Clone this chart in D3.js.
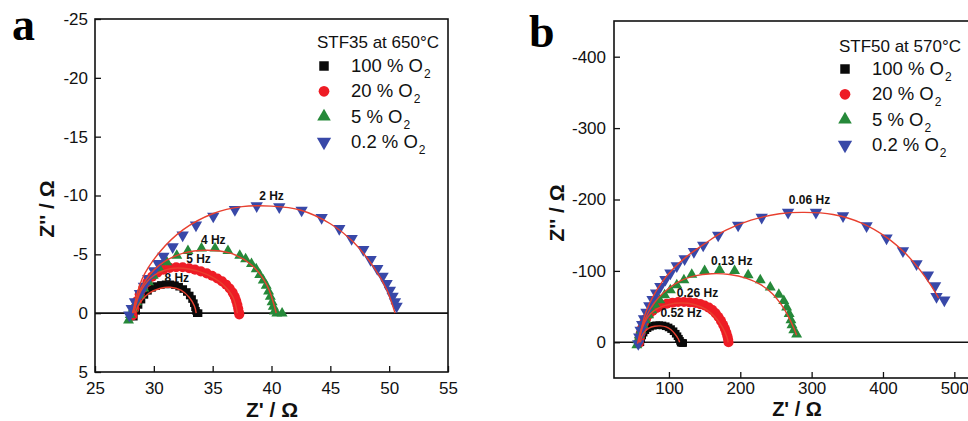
<!DOCTYPE html>
<html>
<head>
<meta charset="utf-8">
<script src="https://cdn.jsdelivr.net/npm/d3@7"></script>
<style>
  body { margin: 0; background: #fff; }
  svg { display: block; font-family: 'Liberation Sans', Arial, sans-serif; }
  .axis text { font-size: 17px; fill: #111; }
  .axis line { stroke: #111; stroke-width: 1.3px; }
  .frame { fill: none; stroke: #111; stroke-width: 1.6px; }
  .zero { stroke: #111; stroke-width: 1.6px; }
  .fit { fill: none; stroke: #e8402f; stroke-width: 1.4px; }
  .title { font-size: 21px; font-weight: bold; fill: #111; }
  .freq { font-size: 12px; font-weight: bold; fill: #111; }
  .legend { font-size: 17px; fill: #111; }
  .entry { font-size: 18.5px; fill: #111; }
  .letter { font-family: 'Liberation Serif', 'Times New Roman', serif; font-weight: bold; font-size: 46px; }
</style>
</head>
<body>
<div id="chart"></div>
<script>
/* global d3 */

// ---- values (Z' , Z'' in ohm) ----
var seriesLabels = ['100 % O', '20 % O', '5 % O', '0.2 % O'];

// panel a: STF35 at 650 C
var a100 = [[28.3,0.3],[28.5,-0.2],[28.7,-0.7],[28.95,-1.15],[29.2,-1.55],[29.5,-1.9],[29.85,-2.15],[30.2,-2.3],
  [30.6,-2.4],[31.0,-2.45],[31.4,-2.45],[31.8,-2.38],[32.15,-2.25],[32.5,-2.05],[32.8,-1.8],[33.05,-1.5],
  [33.25,-1.2],[33.4,-0.85],[33.5,-0.5],[33.58,-0.2],[33.65,0],[33.8,0]];
var a20 = [[28.2,0.2],[28.35,-0.4],[28.55,-1.0],[28.8,-1.6],[29.1,-2.15],[29.45,-2.65],[29.85,-3.1],[30.3,-3.45],
  [30.8,-3.7],[31.35,-3.85],[31.9,-3.9],[32.45,-3.9],[33.0,-3.82],[33.5,-3.7],[34.0,-3.55],[34.5,-3.38],
  [34.95,-3.18],[35.4,-2.95],[35.8,-2.7],[36.15,-2.42],[36.45,-2.1],[36.7,-1.75],[36.88,-1.4],[37.0,-1.05],
  [37.1,-0.72],[37.17,-0.4],[37.22,-0.12],[37.26,0.1]];
var a5 = [[27.85,0.6],[28.0,0.15],[28.25,-0.4],[28.55,-0.95],[28.85,-1.5],[29.15,-2.1],[29.55,-2.65],[29.95,-3.2],
  [30.45,-3.8],[31.1,-4.35],[31.95,-4.9],[32.9,-5.3],[34.05,-5.5],[35.2,-5.5],[36.3,-5.3],[37.3,-4.9],
  [37.8,-4.6],[38.3,-4.2],[38.7,-3.75],[39.0,-3.25],[39.3,-2.8],[39.55,-2.35],[39.75,-1.85],[39.9,-1.4],
  [40.05,-0.95],[40.15,-0.55],[40.25,-0.15],[40.45,0.02],[40.9,0.02]];
var a02 = [[27.92,0.17],[28.12,-0.4],[28.4,-0.96],[28.82,-1.67],[29.16,-2.29],[29.53,-2.95],[30.01,-3.6],
  [30.38,-4.22],[30.81,-4.84],[31.6,-5.64],[32.45,-6.63],[33.58,-7.48],[35.05,-8.24],[36.89,-8.81],
  [38.74,-9.12],[40.66,-9.03],[42.56,-8.75],[44.26,-8.13],[45.76,-7.19],[46.81,-6.34],[47.8,-5.41],
  [48.42,-4.56],[48.99,-3.79],[49.44,-3.14],[49.78,-2.52],[50.06,-1.95],[50.29,-1.44],[50.49,-0.96],[50.63,-0.59]];
// fitted curves (red lines)
var aFit100 = [[28.4,0],[28.9,-1.0],[29.6,-1.7],[30.5,-2.1],[31.4,-2.2],[32.3,-1.95],[33.0,-1.35],[33.45,-0.6],[33.6,0]];
var aFit20 = [[28.3,0],[28.9,-1.9],[30.0,-3.2],[31.5,-3.8],[33.0,-3.75],[34.5,-3.3],[35.8,-2.5],[36.7,-1.4],[37.1,0]];
var aFit5 = [[28.2,0],[29.0,-2.3],[30.5,-4.1],[32.5,-5.1],[34.5,-5.35],[36.5,-5.1],[38.3,-4.1],[39.6,-2.4],[40.4,0]];
var aFit02 = [[28.2,0],[29.0,-2.9],[30.5,-5.2],[32.5,-7.1],[35,-8.45],[37.5,-9.05],[40,-9.1],[42.5,-8.75],
  [45,-7.6],[47,-6],[48.7,-3.9],[49.8,-2],[50.5,0]];
var aFreq = [['2 Hz', 40.0, -9.6], ['4 Hz', 35.05, -5.85], ['5 Hz', 33.8, -4.25], ['8 Hz', 31.95, -2.65]];
var aXTicks = [25, 30, 35, 40, 45, 50, 55];
var aYTicks = [-25, -20, -15, -10, -5, 0, 5];

// panel b: STF50 at 570 C
var b100 = [[60,0],[61,-5],[62.5,-9.5],[64.5,-13.5],[67,-17],[70,-19.8],[73.5,-21.8],[77.5,-23.2],[82,-23.8],
  [86.5,-24],[91,-23.6],[95.5,-22.5],[99.5,-20.8],[103,-18.5],[106.5,-15.5],[109.5,-12],[112,-8.5],
  [114,-5],[115.5,-2],[116.5,0.5],[118.5,1],[120,1]];
var b20 = [[58,1],[59,-6],[60.5,-13],[62.5,-20],[65,-27],[68,-33],[72,-39],[77,-44],[83,-48],[90,-51.5],
  [97,-54],[105,-55.5],[113,-56.5],[121,-56.5],[129,-56],[137,-55],[144,-53.5],[150,-51.5],[156,-48.5],
  [161,-45],[165.5,-40.5],[169.5,-35.5],[173,-30],[176,-24.5],[178.5,-19],[180.5,-13.5],[182,-8.5],
  [183,-4],[183.5,0]];
var b5 = [[55,4],[56.5,-3],[58.5,-10],[61,-17],[64,-24],[67.5,-31],[71.5,-38],[76,-45],[81,-52],[87,-59],
  [94,-66],[102,-73],[111,-80],[121,-87],[132,-95],[150,-100],[171,-101.5],[192,-100],[211,-94],[228,-87],
  [242,-77],[254,-67],[261,-58],[265,-49],[268.5,-40],[271,-31],[272.5,-24],[275,-17],[279,-11]];
var b02 = [[57,2],[58.4,-7.5],[60.3,-16.8],[62.5,-25],[65,-33],[68.5,-42],[72.5,-51],[77,-60],[82,-69],
  [88,-78],[95,-88],[102,-97],[111,-107],[122,-117],[135,-127],[148,-136],[169,-150],[197,-164],[230,-175],
  [267,-182],[306,-182],[344,-177],[377,-163],[405,-146],[428,-128],[447,-110],[463,-94],[473,-79],
  [475,-64],[486,-59]];
var bFit100 = [[60,0],[62,-8],[66,-15],[72,-20],[80,-22.5],[88,-23],[96,-21.5],[103,-17.5],[109,-11],[113,-5],[115,0]];
var bFit20 = [[58,0],[61,-15],[66,-28],[74,-40],[85,-48],[100,-53],[117,-55],[135,-53],[152,-46],[165,-35],
  [175,-21],[181,-8],[183,0]];
var bFit5 = [[56,2],[60,-15],[66,-31],[74,-47],[85,-62],[99,-75],[116,-86],[136,-93],[160,-96],[185,-95],
  [208,-90],[228,-81],[245,-68],[258,-52],[268,-35],[275,-20],[279,-10]];
var bFit02 = [[58,0],[62,-22],[68,-43],[77,-63],[90,-84],[106,-103],[126,-121],[150,-138],[180,-157],
  [215,-171],[255,-180],[290,-182],[330,-179],[370,-167],[405,-147],[432,-124],[452,-101],[467,-80],[478,-62]];
var bFreq = [['0.06 Hz', 297, -193], ['0.13 Hz', 188, -108], ['0.26 Hz', 140, -64], ['0.52 Hz', 117, -36]];
var bXTicks = [100, 200, 300, 400, 500];
var bYTicks = [-400, -300, -200, -100, 0];

// ---- drawing ----
var colors = ['#0a0a0a', '#ee1c25', '#26893a', '#3848a8'];
var shapes = [d3.symbolSquare, d3.symbolCircle, d3.symbolTriangle, d3.symbolTriangle];
var pointSizes = [58, 80, 52, 66];
var legendSizes = [90, 90, 80, 88];

var svg = d3.select('#chart').append('svg')
    .attr('width', 968)
    .attr('height', 421);

function symbolTransform(i, px, py) {
  // 0.2 % series uses a down-pointing triangle
  return 'translate(' + px + ',' + py + ')' + (i === 3 ? ' rotate(180)' : '');
}

function plainNumber(d) { return String(d); } // keep the ascii hyphen of the original

function drawPanel(cfg) {
  var x = d3.scaleLinear().domain(cfg.xDomain).range([cfg.left, cfg.left + cfg.width]);
  var y = d3.scaleLinear().domain(cfg.yDomain).range([cfg.top, cfg.top + cfg.height]);
  var g = svg.append('g');

  g.append('line')
      .attr('class', 'zero')
      .attr('x1', cfg.left).attr('x2', cfg.left + cfg.width)
      .attr('y1', y(0)).attr('y2', y(0));

  cfg.series.forEach(function (pts, i) {
    g.append('g').selectAll('path')
        .data(pts)
      .enter().append('path')
        .attr('d', d3.symbol(shapes[i], pointSizes[i]))
        .attr('transform', function (d) { return symbolTransform(i, x(d[0]), y(d[1])); })
        .attr('fill', colors[i]);
  });

  var line = d3.line()
      .x(function (d) { return x(d[0]); })
      .y(function (d) { return y(d[1]); })
      .curve(d3.curveCatmullRom);
  cfg.fits.forEach(function (f) {
    g.append('path').attr('class', 'fit').attr('d', line(f));
  });

  g.append('g').selectAll('text')
      .data(cfg.freq)
    .enter().append('text')
      .attr('class', 'freq')
      .attr('x', function (d) { return x(d[1]); })
      .attr('y', function (d) { return y(d[2]); })
      .attr('text-anchor', 'middle')
      .text(function (d) { return d[0]; });

  var xAxis = d3.axisBottom(x).tickValues(cfg.xTicks).tickFormat(plainNumber)
      .tickSizeInner(-6).tickSizeOuter(0).tickPadding(cfg.xPad);
  var yAxis = d3.axisLeft(y).tickValues(cfg.yTicks).tickFormat(plainNumber)
      .tickSizeInner(-6).tickSizeOuter(0).tickPadding(cfg.yPad);

  g.append('g')
      .attr('class', 'axis')
      .attr('transform', 'translate(0,' + (cfg.top + cfg.height) + ')')
      .call(xAxis)
      .select('.domain').remove();
  g.append('g')
      .attr('class', 'axis')
      .attr('transform', 'translate(' + cfg.left + ',0)')
      .call(yAxis)
      .select('.domain').remove();
  g.selectAll('.axis').attr('font-family', null).attr('font-size', null);

  g.append('rect')
      .attr('class', 'frame')
      .attr('x', cfg.left).attr('y', cfg.top)
      .attr('width', cfg.width).attr('height', cfg.height);

  // axis titles
  g.append('text')
      .attr('class', 'title')
      .attr('x', cfg.xTitle[0]).attr('y', cfg.xTitle[1])
      .attr('text-anchor', 'middle')
      .style('font-size', cfg.xTitle[2])
      .text('Z\' / \u03A9');
  g.append('text')
      .attr('class', 'title')
      .attr('transform', 'translate(' + cfg.yTitle[0] + ',' + cfg.yTitle[1] + ') rotate(-90)')
      .attr('text-anchor', 'middle')
      .attr('dy', '0.35em')
      .text('Z\'\' / \u03A9');

  // panel letter
  g.append('text')
      .attr('class', 'letter')
      .attr('x', cfg.letter[1]).attr('y', cfg.letter[2])
      .text(cfg.letter[0]);

  // legend
  var lg = cfg.legend;
  g.append('text')
      .attr('class', 'legend')
      .attr('x', lg.right).attr('y', lg.titleY)
      .attr('text-anchor', 'end')
      .text(lg.title);
  seriesLabels.forEach(function (label, i) {
    var cy = lg.rowY + i * lg.step;
    g.append('path')
        .attr('d', d3.symbol(shapes[i], legendSizes[i]))
        .attr('transform', symbolTransform(i, lg.symX, cy))
        .attr('fill', colors[i]);
    var t = g.append('text')
        .attr('class', 'entry')
        .attr('x', lg.textX).attr('y', cy + 6)
        .text(label);
    t.append('tspan').attr('font-size', '12px').attr('dx', 1).attr('dy', 6).text('2');
  });
}

drawPanel({
  xDomain: [25, 55], yDomain: [-25, 5],
  left: 95, top: 19, width: 353, height: 353,
  series: [a100, a20, a5, a02],
  fits: [aFit100, aFit20, aFit5, aFit02],
  freq: aFreq,
  xTicks: aXTicks, yTicks: aYTicks, xPad: 10, yPad: 7,
  xTitle: [272, 417, '21px'], yTitle: [47, 209],
  letter: ['a', 12, 40],
  legend: { title: 'STF35 at 650\u00B0C', right: 439, titleY: 48, symX: 324, textX: 351, rowY: 66, step: 25.3 }
});

drawPanel({
  xDomain: [23, 550], yDomain: [-450, 50],
  left: 614, top: 21, width: 376, height: 357,
  series: [b100, b20, b5, b02],
  fits: [bFit100, bFit20, bFit5, bFit02],
  freq: bFreq,
  xTicks: bXTicks, yTicks: bYTicks, xPad: 4, yPad: 8,
  xTitle: [797, 416, '20px'], yTitle: [557, 213],
  letter: ['b', 529, 47],
  legend: { title: 'STF50 at 570\u00B0C', right: 961, titleY: 52, symX: 845, textX: 872, rowY: 69, step: 25.3 }
});
</script>
</body>
</html>
